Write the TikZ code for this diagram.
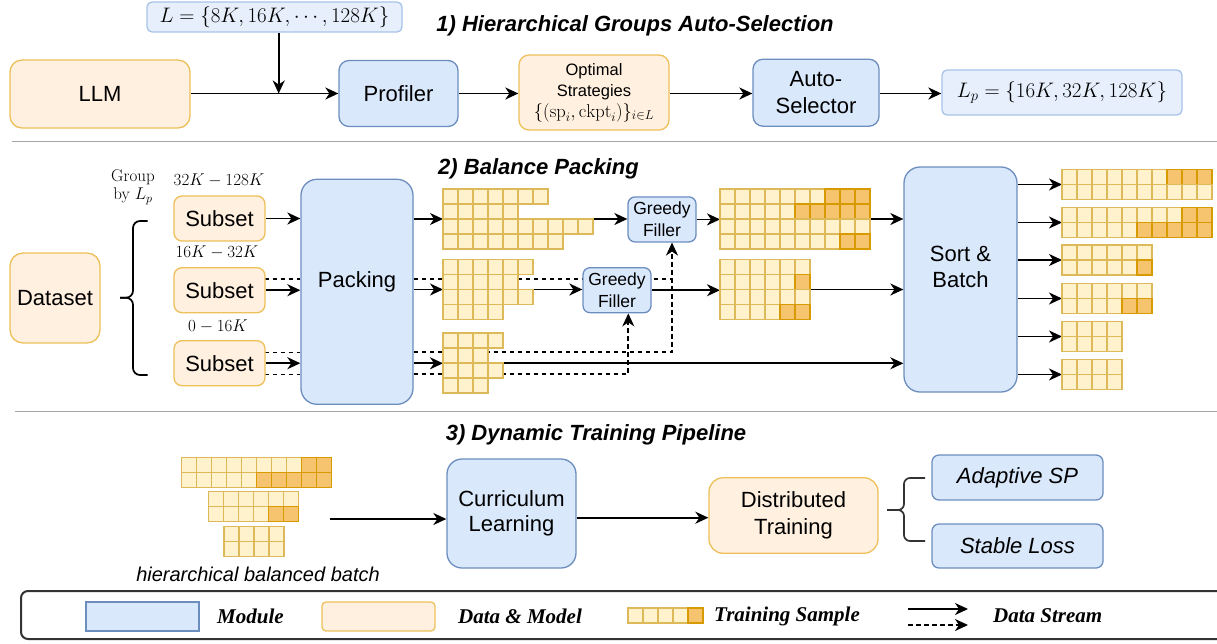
\RequirePackage{fix-cm}
\documentclass[tikz,border=0pt]{standalone}
\usepackage{fontspec}
\newfontfamily\sansf{Liberation Sans}
\newfontfamily\serff{Liberation Serif}
\usetikzlibrary{arrows.meta,calc}
\pgfdeclarelayer{bg}
\pgfsetlayers{bg,main}
\definecolor{blueF}{HTML}{DAE8FC}
\definecolor{blueD}{HTML}{6C8EBF}
\definecolor{lblueF}{HTML}{E6EFFB}
\definecolor{lblueD}{HTML}{A8C3E8}
\definecolor{orF}{HTML}{FFF0DF}
\definecolor{orD}{HTML}{EEC05A}
\definecolor{cellF}{HTML}{FFF2CC}
\definecolor{cellD}{HTML}{DDB95A}
\definecolor{dcellF}{HTML}{F6C46E}
\definecolor{dcellD}{HTML}{D79B00}
\tikzset{
  base/.style={align=center, inner sep=0pt, line width=1.3pt, font=\sansf\fontsize{22}{26.5}\selectfont},
  module/.style={base, draw=blueD, fill=blueF, rounded corners=10pt},
  datab/.style={base, draw=orD, fill=orF, rounded corners=10pt},
  lbox/.style={base, draw=lblueD, fill=lblueF, rounded corners=5pt, font=\fontsize{21}{25}\selectfont},
  gfbox/.style={module, rounded corners=7pt, font=\sansf\fontsize{17.5}{21.5}\selectfont},
  itbox/.style={module, rounded corners=7pt, font=\sansf\itshape\fontsize{22}{26}\selectfont},
  txt22/.style={align=center, inner sep=0pt, font=\sansf\fontsize{22}{26.5}\selectfont},
  ttl/.style={inner sep=0pt, font=\sansf\bfseries\itshape\fontsize{22}{26}\selectfont},
  lmtxt/.style={align=center, inner sep=0pt, font=\fontsize{17}{18}\selectfont},
  itl/.style={inner sep=0pt, font=\sansf\itshape\fontsize{20}{24}\selectfont},
  lgtxt/.style={inner sep=0pt, anchor=west, font=\serff\bfseries\itshape\fontsize{21}{24}\selectfont},
  lcell/.style={draw=cellD, fill=cellF, line width=1.1pt},
  dcell/.style={draw=dcellD, fill=dcellF, line width=1.1pt},
  arr/.style={line width=1.8pt, -{Stealth[length=13pt,width=12pt,inset=4pt]}},
  dsh/.style={line width=1.6pt, dash pattern=on 4.5pt off 3.5pt},
  sep/.style={draw=black!35, line width=1.6pt},
  brc/.style={line width=1.7pt, rounded corners=7pt},
}
\newcommand\cellrow[4]{%
  \foreach \ci in {1,...,#3}{%
    \pgfmathtruncatemacro\dk{\ci>(#3-#4)?1:0}%
    \ifnum\dk=1
      \path[dcell] ({#1+15*(\ci-1)},{#2}) rectangle ++(15,15);
    \else
      \path[lcell] ({#1+15*(\ci-1)},{#2}) rectangle ++(15,15);
    \fi
  }%
}
\newcommand\cellgrid[3]{%
  \foreach \nn/\kk [count=\rr from 0] in {#3}{%
    \cellrow{#1}{#2+15*\rr}{\nn}{\kk}
  }%
}
\begin{document}
\begin{tikzpicture}[x=1pt,y=-1pt]
\useasboundingbox (0,0) rectangle (1217,643);
\clip (0,0) rectangle (1217,643);

% titles and separators
\node[ttl] (t1) at (635,25.5) {1) Hierarchical Groups Auto-Selection};
\node[ttl] (t2) at (538.5,169) {2) Balance Packing};
\node[ttl] (t3) at (596,435) {3) Dynamic Training Pipeline};
\draw[sep] (12,141.5) -- (1217,141.5);
\draw[sep] (15,411.5) -- (1217,411.5);

% ---------- Section 1
\node[lbox, minimum width=255, minimum height=30] (Lset) at (274.5,17) {$L=\{8K,16K,\cdots,128K\}$};
\node[datab, rounded corners=12pt, minimum width=180, minimum height=68] (llm) at (100,94) {LLM};
\node[module, minimum width=119, minimum height=66] (prof) at (398.5,93.5) {Profiler};
\node[datab, minimum width=150, minimum height=75, font=\sansf\fontsize{16.5}{21}\selectfont] (opt) at (594,92.5) {Optimal\\Strategies\\\fontsize{18.5}{21}\selectfont$\{(\mathrm{sp}_i,\mathrm{ckpt}_i)\}_{i\in L}$};
\node[module, minimum width=126, minimum height=67] (auto) at (816,92.7) {Auto-\\Selector};
\node[lbox, minimum width=240, minimum height=45] (Lp) at (1062,92.5) {$L_p=\{16K,32K,128K\}$};
\coordinate (j1) at (278.7,93.5);
\coordinate (row1) at (0,93.5);

% ---------- Section 2
\node[datab, rounded corners=13pt, minimum width=90, minimum height=90] (ds) at (55,298) {Dataset};
\node[datab, rounded corners=8pt, minimum width=91, minimum height=45] (s1) at (219.5,218.5) {Subset};
\node[datab, rounded corners=8pt, minimum width=91, minimum height=45] (s2) at (219.5,290.2) {Subset};
\node[datab, rounded corners=8pt, minimum width=91, minimum height=45] (s3) at (219.5,363.2) {Subset};
\node[module, rounded corners=16pt, minimum width=112, minimum height=225] (pk) at (357,291.8) {};
\node[txt22] (pkt) at (357,281.7) {Packing};
\node[gfbox, minimum width=68, minimum height=45] (gf1) at (662,219.4) {Greedy\\Filler};
\node[gfbox, minimum width=68, minimum height=45] (gf2) at (617,290.2) {Greedy\\Filler};
\node[module, rounded corners=16pt, minimum width=113, minimum height=225] (sb) at (960.5,279.5) {};
\node[txt22] (sbt) at (960.5,267) {Sort \&\\Batch};

\node[lmtxt] (grp) at (133,187) {Group\\by $L_p$};
\node[lmtxt] (r1) at (219,180) {$32K-128K$};
\node[lmtxt] (r2) at (217,252.3) {$16K-32K$};
\node[lmtxt] (r3) at (218,326.7) {$0-16K$};
\draw[brc] (147.7,221) -- (133,221) -- (133,297.7) -- (120,297.7);
\draw[brc] (120,297.7) -- (133,297.7) -- (133,375) -- (147.7,375);

\cellgrid{443}{189}{7/0,5/0,10/0,8/0}
\cellgrid{720}{189}{10/3,10/5,10/0,10/2}
\cellgrid{443}{259.5}{6/0,5/0,6/0,4/0}
\cellgrid{720}{259.5}{6/0,6/1,6/0,6/2}
\cellgrid{443}{333}{4/0,3/0,4/0,3/0}
\cellgrid{1062}{169.5}{10/3,10/0}
\cellgrid{1062}{207.5}{10/2,10/5}
\cellgrid{1062}{245}{6/0,6/1}
\cellgrid{1062}{283.5}{6/0,6/2}
\cellgrid{1062}{321.5}{4/0,4/0}
\cellgrid{1062}{359.5}{4/0,4/0}

\coordinate (g1in) at (443,219);
\coordinate (g1out) at (593,219);
\coordinate (r1in) at (720,219);
\coordinate (r1out) at (870,219);
\coordinate (g2in) at (443,289.5);
\coordinate (g2out) at (533,289.5);
\coordinate (r2in) at (720,289.5);
\coordinate (r2out) at (810,289.5);
\coordinate (g3in) at (443,363.3);
\coordinate (g3out) at (503,363.3);
\coordinate (d1) at (672,279);
\coordinate (d2) at (672,352.3);
\coordinate (d3) at (628.3,374.3);
\coordinate (s2d) at (264.5,279);
\coordinate (s3da) at (264.5,352.3);
\coordinate (s3db) at (264.5,374.3);
\coordinate (o1) at (1062,184.5);
\coordinate (o2) at (1062,222.5);
\coordinate (o3) at (1062,260);
\coordinate (o4) at (1062,298.5);
\coordinate (o5) at (1062,336.5);
\coordinate (o6) at (1062,374.5);

% ---------- Section 3
\cellgrid{181.7}{457.7}{10/2,10/5}
\cellgrid{208.3}{491.7}{6/0,6/2}
\cellgrid{224}{526.7}{4/0,4/0}
\node[itl] (hbb) at (258,574) {hierarchical balanced batch};
\node[module, rounded corners=15pt, minimum width=129, minimum height=109, font=\sansf\fontsize{22}{24.5}\selectfont] (cl) at (511.5,513.5) {Curriculum\\Learning};
\node[datab, rounded corners=14pt, minimum width=169, minimum height=75.5] (dt) at (793.5,515.5) {Distributed\\Training};
\node[itbox, minimum width=171, minimum height=45] (asp) at (1017.5,477.5) {Adaptive SP};
\node[itbox, minimum width=171, minimum height=44] (sl) at (1017.5,546) {Stable Loss};
\coordinate (bin) at (330,519);
\coordinate (cd) at (0,517.7);
\draw[brc, draw=black!80, rounded corners=6pt] (925,478) -- (904,478) -- (904,510) -- (887,510);
\draw[brc, draw=black!80, rounded corners=6pt] (887,510) -- (904,510) -- (904,541) -- (925,541);

% ---------- Legend
\draw[line width=2pt, draw=black!80, rounded corners=7pt] (21,591) rectangle (1250,639);
\node[base, draw=blueD, fill=blueF, minimum width=113, minimum height=29] (lm) at (142.5,616.5) {};
\node[lgtxt] (lmt) at (217,616) {Module};
\node[datab, rounded corners=4pt, minimum width=113, minimum height=29] (ld) at (378.5,616.5) {};
\node[lgtxt] (ldt) at (458,616) {Data \& Model};
\cellrow{628}{608}{5}{1}
\node[lgtxt] (ltt) at (714,616) {Training Sample};
\node[lgtxt] (lst) at (993,616) {Data Stream};
\coordinate (la1) at (908,609);
\coordinate (la2) at (968,609);
\coordinate (lb1) at (908,625);
\coordinate (lb2) at (968,625);

% ---------- connectors (behind)
\begin{pgfonlayer}{bg}
\draw[arr] (Lset.south -| j1) -- (j1);
\draw[arr] (llm.east |- row1) -- (prof.west |- row1);
\draw[arr] (prof.east |- row1) -- (opt.west |- row1);
\draw[arr] (opt.east |- row1) -- (auto.west |- row1);
\draw[arr] (auto.east |- row1) -- (Lp.west |- row1);

\draw[arr] (s1.east) -- (s1.east -| pk.west);
\draw[arr] (s2.east) -- (s2.east -| pk.west);
\draw[arr] (s3.east) -- (s3.east -| pk.west);
\draw[dsh] (s2d) -- (s2d -| pk.west);
\draw[dsh] (s3da) -- (s3da -| pk.west);
\draw[dsh] (s3db) -- (s3db -| pk.west);

\draw[arr] (pk.east |- g1in) -- (g1in);
\draw[arr] (g1out) -- (g1out -| gf1.west);
\draw[arr] (gf1.east) -- (gf1.east -| r1in);
\draw[arr] (r1out) -- (r1out -| sb.west);
\draw[arr] (pk.east |- g2in) -- (g2in);
\draw[arr] (g2out) -- (g2out -| gf2.west);
\draw[arr] (gf2.east) -- (gf2.east -| r2in);
\draw[arr] (r2out) -- (r2out -| sb.west);
\draw[arr] (pk.east |- g3in) -- (g3in);
\draw[arr] (g3out) -- (g3out -| sb.west);
\draw[dsh] (pk.east |- d1) -- (d1);
\draw[dsh, arr] (pk.east |- d2) -- (d2) -- (d2 |- gf1.south);
\draw[dsh, arr] (pk.east |- d3) -- (d3) -- (d3 |- gf2.south);
\foreach \o in {o1,o2,o3,o4,o5,o6}{\draw[arr] (sb.east |- \o) -- (\o);}

\draw[arr] (bin) -- (bin -| cl.west);
\draw[arr] (cl.east |- cd) -- (dt.west |- cd);

\draw[arr] (la1) -- (la2);
\draw[dsh, arr] (lb1) -- (lb2);
\end{pgfonlayer}
\end{tikzpicture}
\end{document}
